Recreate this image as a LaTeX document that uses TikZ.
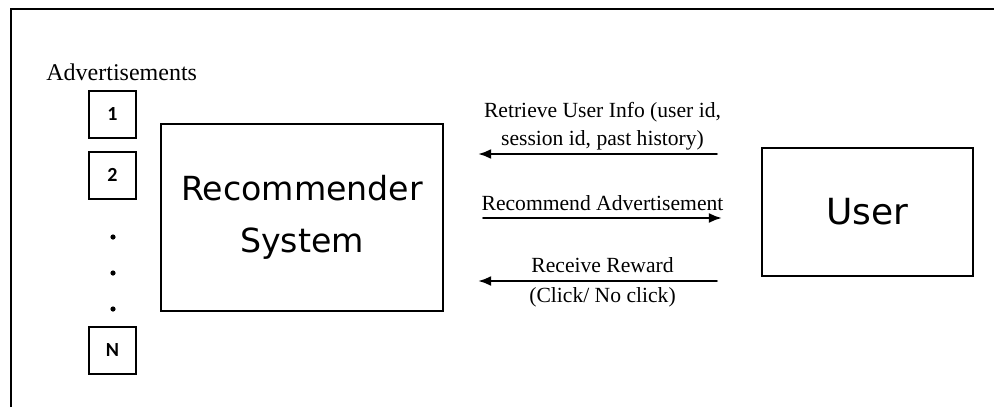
\documentclass[tikz,border=0pt]{standalone}
\usepackage{fontspec}
\setmainfont{Liberation Serif}
\newfontfamily\boxfont{DejaVu Sans}
\newfontfamily\numfont{Carlito}
\usetikzlibrary{arrows.meta,positioning}

\begin{document}
\begin{tikzpicture}[x=0.5pt, y=-0.5pt, line cap=round,
  adbox/.style={draw, line width=1pt, minimum width=23.5pt, minimum height=23.5pt,
    inner sep=0pt, font=\numfont\bfseries\fontsize{10}{11}\selectfont},
  bigbox/.style={draw, line width=1.1pt, inner sep=0pt, align=center},
  arr/.style={line width=1.1pt, -{Latex[length=6.5pt,width=5pt]}},
  lbl/.style={font=\fontsize{10.8}{14}\selectfont, inner sep=1.5pt, align=center}]
\useasboundingbox (0,0) rectangle (994,407);
% frame
\draw[line width=1.4pt, line cap=butt] (11,407) -- (11,9) -- (994,9);
% advertisements
\node[anchor=base west, inner sep=0pt, font=\fontsize{12}{14}\selectfont] (adtitle) at (46,80) {Advertisements};
\node[adbox] (ad1) at (112.5,114.5) {1};
\node[adbox] (ad2) at (112.5,175) {2};
\node[adbox] (adN) at (112.5,350.5) {N};
\foreach \y in {237,273,309}
  \fill (113,\y) circle (1.3pt);
% main boxes
\node[bigbox, minimum width=141pt, minimum height=93.5pt,
  font=\boxfont\fontsize{16.6}{26}\selectfont] (rec) at (302,217.5) {Recommender\\System};
\node[bigbox, minimum width=105.5pt, minimum height=64pt,
  font=\boxfont\fontsize{18}{22}\selectfont] (user) at (867.5,212) {User};
% levels of the arrows
\coordinate (lv1) at (0,154);
\coordinate (lv2) at (0,218);
\coordinate (lv3) at (0,281);
\draw[arr, shorten <=22pt, shorten >=17pt] (user.west |- lv1) -- (rec.east |- lv1)
  node[midway, above, lbl] (retrieve) {Retrieve User Info (user id,\\session id, past history)};
\draw[arr, shorten <=19.5pt, shorten >=19.5pt] (rec.east |- lv2) -- (user.west |- lv2)
  node[midway, anchor=base, yshift=4pt, lbl] (recommend) {Recommend Advertisement};
\draw[arr, shorten <=22pt, shorten >=17pt] (user.west |- lv3) -- (rec.east |- lv3)
  node[midway, anchor=base, yshift=4.5pt, lbl] (reward) {Receive Reward}
  node[midway, anchor=base, yshift=-10.5pt, lbl] (click) {(Click/ No click)};
\end{tikzpicture}
\end{document}
